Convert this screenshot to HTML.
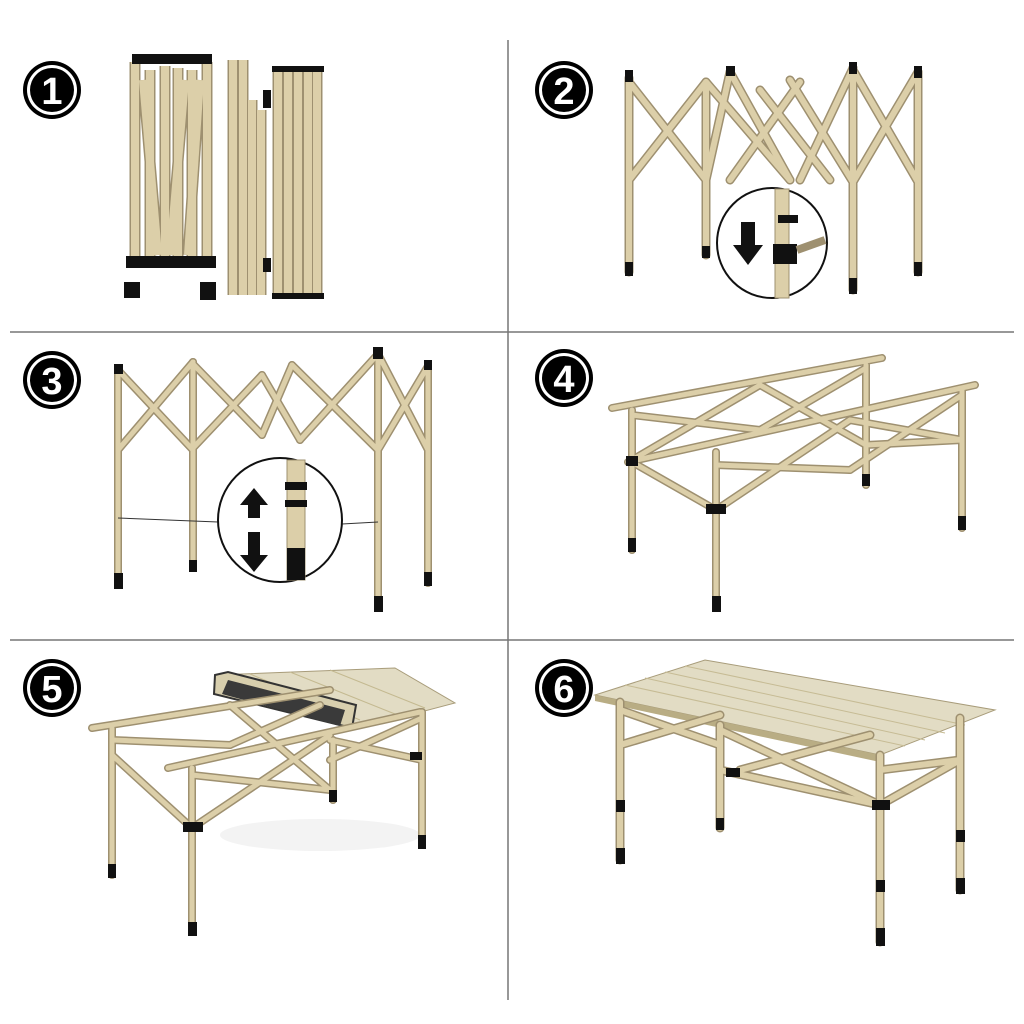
<!DOCTYPE html>
<html><head><meta charset="utf-8"><style>
html,body{margin:0;padding:0;background:#fff;}
svg{display:block}
.num{font-family:"Liberation Sans",sans-serif;font-weight:bold;font-size:38px;fill:#fff;text-anchor:middle}
</style></head><body>
<svg width="1024" height="1024" viewBox="0 0 1024 1024" xmlns="http://www.w3.org/2000/svg">
<defs>
<g id="badge"><circle r="29" fill="#000"/><circle r="25" fill="#fff"/><circle r="22" fill="#000"/></g>
<g id="P1" stroke-linecap="butt">
 <line x1="135" y1="62" x2="135" y2="265"/><line x1="150" y1="70" x2="150" y2="262"/><line x1="165" y1="66" x2="165" y2="262"/>
 <line x1="178" y1="68" x2="178" y2="262"/><line x1="192" y1="70" x2="192" y2="262"/><line x1="207" y1="62" x2="207" y2="265"/>
 <line x1="143" y1="80" x2="158" y2="255"/><line x1="185" y1="80" x2="170" y2="255"/><line x1="200" y1="80" x2="188" y2="255"/>
 <line x1="233" y1="60" x2="233" y2="295"/><line x1="243" y1="60" x2="243" y2="295"/><line x1="252" y1="100" x2="252" y2="295"/><line x1="261" y1="110" x2="261" y2="295"/>
 <line x1="278" y1="68" x2="278" y2="298"/><line x1="288" y1="68" x2="288" y2="298"/><line x1="298" y1="68" x2="298" y2="298"/><line x1="308" y1="68" x2="308" y2="298"/><line x1="317" y1="68" x2="317" y2="298"/>
</g>
<g id="P2">
 <line x1="629" y1="78" x2="629" y2="272"/><line x1="706" y1="85" x2="706" y2="255"/><line x1="853" y1="68" x2="853" y2="290"/><line x1="918" y1="72" x2="918" y2="272"/>
 <line x1="629" y1="82" x2="706" y2="180"/><line x1="629" y1="180" x2="706" y2="82"/>
 <line x1="706" y1="82" x2="790" y2="180"/><line x1="706" y1="180" x2="730" y2="72"/><line x1="730" y1="72" x2="790" y2="180"/>
 <line x1="730" y1="180" x2="800" y2="82"/><line x1="790" y1="80" x2="853" y2="182"/><line x1="800" y1="180" x2="853" y2="68"/>
 <line x1="853" y1="70" x2="918" y2="182"/><line x1="853" y1="182" x2="918" y2="72"/><line x1="760" y1="90" x2="830" y2="180"/>
</g>
<g id="P3">
 <line x1="118" y1="368" x2="118" y2="585"/><line x1="193" y1="362" x2="193" y2="568"/><line x1="378" y1="352" x2="378" y2="608"/><line x1="428" y1="365" x2="428" y2="583"/>
 <line x1="118" y1="370" x2="193" y2="450"/><line x1="118" y1="450" x2="193" y2="362"/>
 <line x1="193" y1="364" x2="262" y2="435"/><line x1="193" y1="448" x2="262" y2="375"/>
 <line x1="262" y1="375" x2="300" y2="440"/><line x1="262" y1="435" x2="292" y2="365"/>
 <line x1="292" y1="365" x2="378" y2="450"/><line x1="300" y1="440" x2="378" y2="354"/>
 <line x1="378" y1="354" x2="428" y2="450"/><line x1="378" y1="450" x2="428" y2="366"/>
</g>
<g id="P4">
 <line x1="612" y1="408" x2="882" y2="358"/><line x1="628" y1="462" x2="975" y2="385"/>
 <line x1="632" y1="410" x2="632" y2="550"/><line x1="716" y1="452" x2="716" y2="608"/><line x1="866" y1="365" x2="866" y2="485"/><line x1="962" y1="390" x2="962" y2="528"/>
 <line x1="632" y1="415" x2="760" y2="430"/><line x1="632" y1="460" x2="760" y2="385"/><line x1="760" y1="385" x2="866" y2="445"/><line x1="760" y1="430" x2="866" y2="368"/>
 <line x1="716" y1="510" x2="850" y2="420"/><line x1="716" y1="465" x2="850" y2="470"/><line x1="850" y1="420" x2="962" y2="440"/><line x1="850" y1="470" x2="962" y2="395"/>
 <line x1="632" y1="462" x2="716" y2="510"/><line x1="866" y1="445" x2="962" y2="440"/>
</g>
<g id="P5">
 <line x1="92" y1="728" x2="330" y2="690"/><line x1="168" y1="768" x2="420" y2="712"/>
 <line x1="112" y1="728" x2="112" y2="875"/><line x1="192" y1="768" x2="192" y2="932"/><line x1="333" y1="740" x2="333" y2="800"/><line x1="422" y1="712" x2="422" y2="845"/>
 <line x1="112" y1="740" x2="230" y2="745"/><line x1="112" y1="755" x2="192" y2="828"/><line x1="230" y1="705" x2="330" y2="790"/><line x1="230" y1="745" x2="320" y2="705"/>
 <line x1="192" y1="828" x2="330" y2="735"/><line x1="192" y1="775" x2="330" y2="790"/><line x1="330" y1="740" x2="422" y2="760"/><line x1="330" y1="760" x2="422" y2="718"/>
</g>
<g id="P6">
 <line x1="620" y1="702" x2="620" y2="860"/><line x1="720" y1="725" x2="720" y2="828"/><line x1="880" y1="755" x2="880" y2="942"/><line x1="960" y1="718" x2="960" y2="890"/>
 <line x1="620" y1="710" x2="720" y2="745"/><line x1="620" y1="745" x2="720" y2="715"/>
 <line x1="720" y1="770" x2="880" y2="805"/><line x1="720" y1="730" x2="880" y2="805"/><line x1="740" y1="770" x2="870" y2="735"/>
 <line x1="880" y1="805" x2="960" y2="760"/><line x1="880" y1="770" x2="960" y2="760"/>
</g>
</defs>

<g stroke="#777" stroke-width="1.5">
<line x1="10" y1="332" x2="1014" y2="332"/><line x1="10" y1="640" x2="1014" y2="640"/><line x1="508" y1="40" x2="508" y2="1000"/>
</g>

<ellipse cx="320" cy="835" rx="100" ry="16" fill="#f3f3f3"/>
<polygon points="215,675 395,668 455,703 360,728 330,718" fill="#e2dcc4" stroke="#a89c7a"/>
<g stroke="#c4b990" stroke-width="1"><line x1="250" y1="674" x2="360" y2="720"/><line x1="290" y1="672" x2="395" y2="714"/><line x1="330" y1="670" x2="425" y2="708"/></g>
<polygon points="215,675 228,672 356,705 352,728 214,694" fill="#d8cfae" stroke="#333" stroke-width="2"/>
<polygon points="228,680 345,710 340,726 222,694" fill="#3a3a3a"/>
<polygon points="595,695 705,660 995,710 880,755" fill="#e2dcc4" stroke="#a89c7a"/>
<polygon points="595,695 880,755 880,762 595,701" fill="#b9ad84"/>
<g stroke="#c6bb94" stroke-width="1">
<line x1="625" y1="685" x2="905" y2="746"/><line x1="645" y1="678" x2="925" y2="740"/><line x1="665" y1="672" x2="945" y2="733"/><line x1="685" y1="666" x2="965" y2="725"/>
</g>

<g fill="none" stroke-linecap="round">
<use href="#P1" stroke="#9e9070" stroke-width="11"/><use href="#P1" stroke="#dccfa9" stroke-width="8"/>
<use href="#P2" stroke="#9e9070" stroke-width="9"/><use href="#P2" stroke="#dccfa9" stroke-width="6"/>
<use href="#P3" stroke="#9e9070" stroke-width="8"/><use href="#P3" stroke="#dccfa9" stroke-width="5"/>
<use href="#P4" stroke="#9e9070" stroke-width="8"/><use href="#P4" stroke="#dccfa9" stroke-width="5"/>
<use href="#P5" stroke="#9e9070" stroke-width="8"/><use href="#P5" stroke="#dccfa9" stroke-width="5"/>
<use href="#P6" stroke="#9e9070" stroke-width="9"/><use href="#P6" stroke="#dccfa9" stroke-width="6"/>
</g>

<g fill="#111">
<rect x="126" y="256" width="90" height="12"/><rect x="124" y="282" width="16" height="16"/><rect x="200" y="282" width="16" height="18"/>
<rect x="132" y="54" width="80" height="10"/><rect x="272" y="66" width="52" height="6"/><rect x="272" y="293" width="52" height="6"/><rect x="263" y="90" width="8" height="18"/><rect x="263" y="258" width="8" height="14"/>
<rect x="625" y="262" width="8" height="14"/><rect x="702" y="246" width="8" height="12"/><rect x="849" y="278" width="8" height="16"/><rect x="914" y="262" width="8" height="14"/>
<rect x="625" y="70" width="8" height="12"/><rect x="849" y="62" width="8" height="12"/><rect x="914" y="66" width="8" height="12"/><rect x="726" y="66" width="9" height="10"/>
<rect x="114" y="573" width="9" height="16"/><rect x="189" y="560" width="8" height="12"/><rect x="374" y="596" width="9" height="16"/><rect x="424" y="572" width="8" height="14"/>
<rect x="114" y="364" width="9" height="10"/><rect x="373" y="347" width="10" height="12"/><rect x="424" y="360" width="8" height="10"/>
<rect x="628" y="538" width="8" height="14"/><rect x="712" y="596" width="9" height="16"/><rect x="862" y="474" width="8" height="12"/><rect x="958" y="516" width="8" height="14"/>
<rect x="108" y="864" width="8" height="14"/><rect x="188" y="922" width="9" height="14"/><rect x="329" y="790" width="8" height="12"/><rect x="418" y="835" width="8" height="14"/>
<rect x="616" y="848" width="9" height="16"/><rect x="716" y="818" width="8" height="12"/><rect x="876" y="928" width="9" height="18"/><rect x="956" y="878" width="9" height="16"/>
<rect x="616" y="800" width="9" height="12"/><rect x="876" y="880" width="9" height="12"/><rect x="956" y="830" width="9" height="12"/>
<rect x="706" y="504" width="20" height="10"/><rect x="626" y="456" width="12" height="10"/><rect x="183" y="822" width="20" height="10"/><rect x="872" y="800" width="18" height="10"/><rect x="726" y="768" width="14" height="9"/>
<rect x="410" y="752" width="12" height="8"/>
</g>
<g stroke="#333" stroke-width="1"><line x1="118" y1="518" x2="218" y2="522"/><line x1="342" y1="524" x2="378" y2="522"/></g>

<circle cx="772" cy="243" r="55" fill="#fff" stroke="#111" stroke-width="2"/>
<rect x="775" y="189" width="14" height="109" fill="#dccfa9" stroke="#9e9070"/>
<rect x="773" y="244" width="24" height="20" fill="#111"/><rect x="778" y="215" width="20" height="8" fill="#111"/>
<line x1="797" y1="250" x2="825" y2="240" stroke="#9e9070" stroke-width="8"/>
<polygon points="741,222 755,222 755,245 763,245 748,265 733,245 741,245" fill="#111"/>
<circle cx="280" cy="520" r="62" fill="#fff" stroke="#111" stroke-width="2"/>
<rect x="287" y="460" width="18" height="120" fill="#dccfa9" stroke="#9e9070"/>
<rect x="285" y="482" width="22" height="8" fill="#111"/><rect x="285" y="500" width="22" height="7" fill="#111"/><rect x="287" y="548" width="18" height="32" fill="#111"/>
<polygon points="254,488 240,505 248,505 248,518 260,518 260,505 268,505" fill="#111"/>
<polygon points="254,572 240,555 248,555 248,532 260,532 260,555 268,555" fill="#111"/>

<use href="#badge" x="52" y="90"/><text class="num" x="52" y="104">1</text>
<use href="#badge" x="564" y="90"/><text class="num" x="564" y="104">2</text>
<use href="#badge" x="52" y="380"/><text class="num" x="52" y="394">3</text>
<use href="#badge" x="564" y="378"/><text class="num" x="564" y="392">4</text>
<use href="#badge" x="52" y="688"/><text class="num" x="52" y="702">5</text>
<use href="#badge" x="564" y="688"/><text class="num" x="564" y="702">6</text>
</svg>
</body></html>
